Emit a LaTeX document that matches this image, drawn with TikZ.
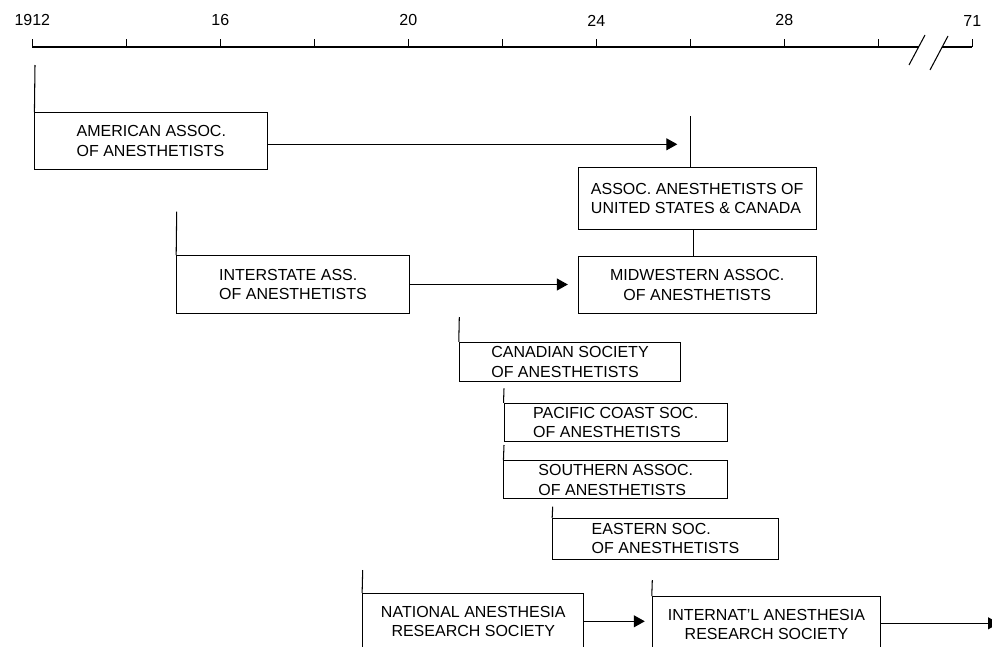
\documentclass[tikz,border=0pt]{standalone}
\usepackage{fontspec}
\setmainfont{Liberation Sans}
\usetikzlibrary{arrows.meta}

\begin{document}
\begin{tikzpicture}
    [x=1pt,y=-1pt,line width=1.05pt,
    font=\fontsize{16}{19.5}\selectfont,
    org/.style={draw,rectangle,align=left,inner sep=0pt},
    orgc/.style={org,align=center},
    tip/.style={-{Triangle[length=11pt,width=12pt]}}]
    \useasboundingbox (0,0) rectangle (992,646);
    %axis
    \draw (32.3,47)--(918.6,47);
    \draw (942.2,47)--(972.3,47);
    %break
    \draw (925,35)--(909,65);
    \draw (948,36)--(930,70);
    %label axis
    \draw (32.3,47)--(32.3,39) node[above=9pt](y12){1912};
    \draw (126.3,47)--(126.3,39);
    \draw (220.3,47)--(220.3,39) node[above=9pt](y16){16};
    \draw (314.3,47)--(314.3,39);
    \draw (408.3,47)--(408.3,39) node[above=9pt](y20){20};
    \draw (502.3,47)--(502.3,39);
    \draw (596.3,47)--(596.3,39) node[above=9pt](y24){24};
    \draw (690.3,47)--(690.3,39);
    \draw (784.3,47)--(784.3,39) node[above=9pt](y28){28};
    \draw (878.3,47)--(878.3,39);
    \draw (972.3,47)--(972.3,39) node[above=9pt](y71){71};
    %societies
    \node[org,minimum width=232.7,minimum height=56.6] (american) at (151.3,141)
        {AMERICAN ASSOC.\\OF ANESTHETISTS};
    \node[org,minimum width=237.7,minimum height=61.6] (assoc) at (697.2,198.5)
        {ASSOC. ANESTHETISTS OF\\UNITED STATES \& CANADA};
    \node[orgc,minimum width=237.7,minimum height=57.5] (midwest) at (697.2,284.8)
        {MIDWESTERN ASSOC.\\OF ANESTHETISTS};
    \node[org,minimum width=232.6,minimum height=57.6] (interstate) at (293,284.5)
        {INTERSTATE ASS.\\OF ANESTHETISTS};
    \node[org,minimum width=221.4,minimum height=39.4] (canadian) at (570,362)
        {CANADIAN SOCIETY\\OF ANESTHETISTS};
    \node[org,minimum width=223.3,minimum height=38.4] (pacific) at (615.7,422.5)
        {PACIFIC COAST SOC.\\OF ANESTHETISTS};
    \node[org,minimum width=223.7,minimum height=38.3] (southern) at (615.8,479.8)
        {SOUTHERN ASSOC.\\OF ANESTHETISTS};
    \node[org,minimum width=225.6,minimum height=40.7] (eastern) at (665.5,538.7)
        {EASTERN SOC.\\OF ANESTHETISTS};
    \node[orgc,minimum width=221.3,minimum height=56] (national) at (473.3,621.3)
        {NATIONAL ANESTHESIA\\RESEARCH SOCIETY};
    \node[orgc,minimum width=228.4,minimum height=56] (internat) at (766.5,624.7)
        {INTERNAT'L ANESTHESIA\\RESEARCH SOCIETY};
    %founding lines
    \coordinate (amertop) at (35,65);
    \coordinate (assoctop) at (690.7,116);
    \coordinate (intertop) at (176.7,211.7);
    \coordinate (cantop) at (459.3,317);
    \coordinate (pactop) at (504,388.3);
    \coordinate (southtop) at (504,445);
    \coordinate (easttop) at (552.7,506.7);
    \coordinate (nattop) at (362.7,570);
    \coordinate (inttop) at (652.3,580);
    \draw (amertop)--(american.north west);
    \draw (assoctop)--(assoctop |- assoc.north);
    \draw ([xshift=-4pt]assoc.south)--([xshift=-4pt]midwest.north);
    \draw (intertop)--(interstate.north west);
    \draw (cantop)--(canadian.north west);
    \draw (pactop)--(pacific.north west);
    \draw (southtop)--(southern.north west);
    \draw (easttop)--(eastern.north west);
    \draw (nattop)--(national.north west);
    \draw (inttop)--(internat.north west);
    %successions
    \coordinate (amertip) at (677.3,144.3);
    \coordinate (inttip) at (999,623.3);
    \draw[tip] (american.east |- amertip)--(amertip);
    \draw[tip] (interstate.east)--([xshift=-10pt]midwest.west |- interstate.east);
    \draw[tip] (national.east)--([xshift=-7pt]internat.west |- national.east);
    \draw[tip] (internat.east |- inttip)--(inttip);
\end{tikzpicture}
\end{document}
